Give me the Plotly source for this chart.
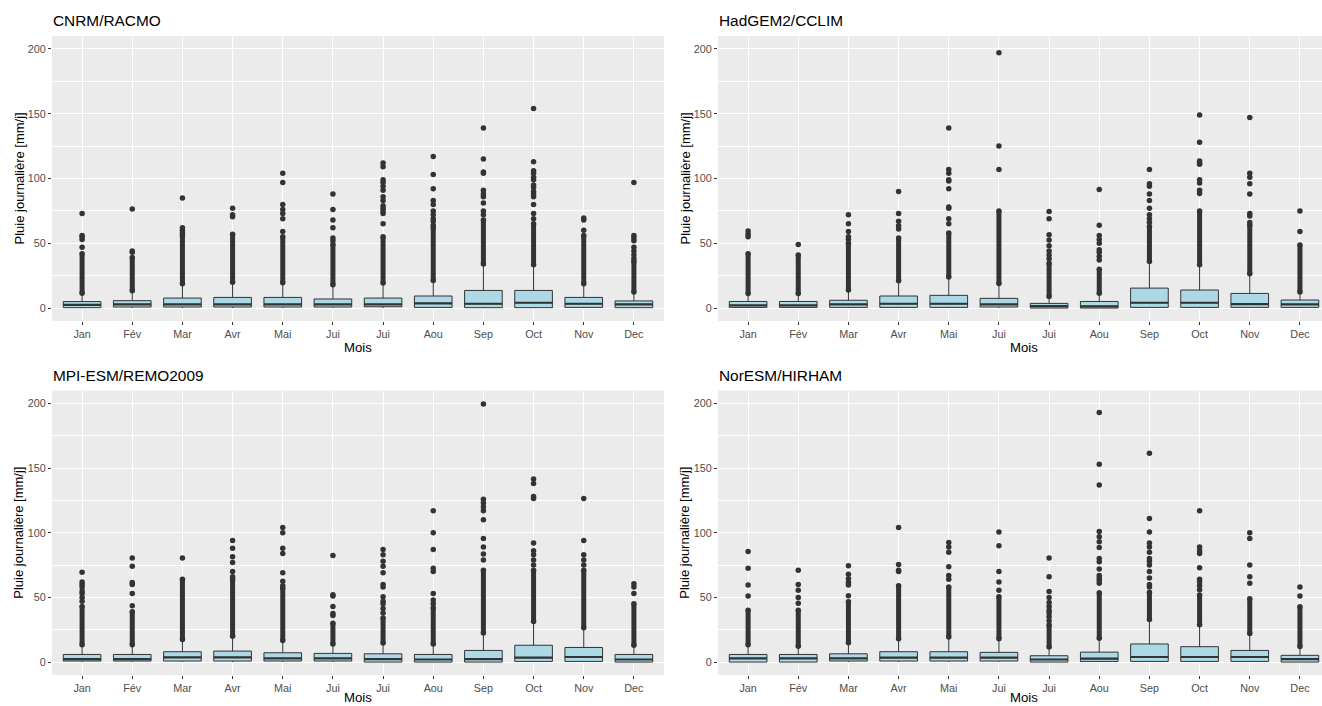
import plotly.graph_objects as go

# ---------------- data ----------------
months = ["Jan", "Fév", "Mar", "Avr", "Mai", "Jui", "Jui", "Aou", "Sep", "Oct", "Nov", "Dec"]
positions = list(range(1, 13))
min_rain = 0.0
y_ticks = [0, 50, 100, 150, 200]
y_minor = [25, 75, 125, 175]

titles = ["CNRM/RACMO", "HadGEM2/CCLIM", "MPI-ESM/REMO2009", "NorESM/HIRHAM"]
x_title = "Mois"
y_title = "Pluie journalière [mm/j]"

# CNRM/RACMO
cnrm_q1 = [0.3, 0.8, 0.8, 0.8, 0.8, 0.8, 1.0, 0.5, 0.3, 0.3, 0.5, 0.3]
cnrm_med = [2.5, 2.8, 2.8, 2.8, 2.8, 2.8, 2.8, 3.6, 3.3, 4.1, 3.3, 2.8]
cnrm_q3 = [5.0, 5.7, 7.7, 8.2, 8.2, 7.0, 7.7, 9.3, 13.6, 13.6, 8.2, 5.5]
cnrm_whisk = [10.5, 12.4, 17.8, 19.0, 18.5, 17.0, 18.3, 20.3, 33.0, 32.4, 17.8, 11.3]
cnrm_dense_lo = [11.5, 13.4, 18.8, 20.0, 19.5, 18.0, 19.3, 21.3, 34.0, 33.4, 18.8, 12.3]
cnrm_dense_hi = [42, 39, 56, 57, 55, 49, 55, 62, 68, 65, 56, 36]
cnrm_out = [
    [47, 53, 55, 56, 73],
    [43, 44, 76.5],
    [58, 60, 62, 85],
    [70.5, 72, 77],
    [59, 69, 73, 76, 80, 97, 104],
    [52, 54, 62, 68, 76, 88],
    [65, 73, 75, 77, 79, 83, 86, 91, 94, 97, 99, 109, 112],
    [64, 67, 69, 72, 75, 80, 83, 92, 103, 117],
    [72, 75, 81, 86, 88, 91, 104, 105, 115, 139],
    [69, 73, 80, 86, 88, 90, 93, 95, 99, 101, 104, 106, 113, 154],
    [60, 68, 69.5],
    [38, 41, 44, 47, 52, 54, 56, 97],
]

# HadGEM2/CCLIM
had_q1 = [0.5, 0.5, 0.5, 0.5, 0.5, 0.8, 0.0, 0.0, 0.5, 0.5, 0.5, 0.5]
had_med = [2.0, 2.0, 2.8, 3.3, 3.3, 2.8, 1.5, 1.3, 4.1, 4.1, 3.1, 2.8]
had_q3 = [5.1, 5.1, 6.0, 9.3, 9.8, 7.5, 3.6, 5.1, 15.4, 13.9, 11.3, 6.2]
had_whisk = [10.3, 10.3, 13.0, 20.0, 23.0, 18.0, 8.0, 10.5, 35.0, 32.4, 25.5, 11.3]
had_dense_lo = [11.3, 11.3, 14.0, 21.0, 24.0, 19.0, 9.0, 11.5, 36.0, 33.4, 26.5, 12.3]
had_dense_hi = [42, 41, 50, 54, 58, 75, 34.5, 30, 63, 75, 64, 48.6]
had_out = [
    [55, 57, 59.5],
    [49],
    [53, 55, 59, 65, 72],
    [61, 63.5, 67, 73, 90],
    [65, 69, 77, 78, 92, 98, 99, 104, 107, 139],
    [107, 125, 197],
    [38, 41, 44, 48, 52.5, 56.5, 69, 74.5],
    [37, 40, 43, 45, 50, 53, 56, 64, 91.5],
    [66, 69, 72, 77, 83, 88, 94, 96, 107],
    [88.5, 91, 96.5, 99, 111, 112, 113.5, 128, 149],
    [66, 71, 73, 88, 96, 101, 104, 147],
    [59, 75],
]

# MPI-ESM/REMO2009
mpi_q1 = [0.8, 0.8, 0.8, 0.8, 0.8, 0.8, 0.0, 0.0, 0.0, 0.5, 0.5, 0.0]
mpi_med = [2.3, 2.3, 3.6, 3.6, 2.8, 2.8, 2.3, 2.0, 2.3, 3.4, 3.9, 2.0]
mpi_q3 = [5.9, 5.9, 8.0, 8.5, 7.2, 6.7, 6.4, 5.9, 9.0, 13.0, 11.3, 5.9]
mpi_whisk = [12.4, 12.4, 16.5, 19.0, 15.7, 13.0, 13.7, 13.0, 21.4, 30.4, 25.5, 12.0]
mpi_dense_lo = [13.4, 13.4, 17.5, 20.0, 16.7, 14.0, 14.7, 14.0, 22.4, 31.4, 26.5, 13.0]
mpi_dense_hi = [43, 39, 64, 64, 57, 30, 34, 42, 71, 71, 71, 45]
mpi_out = [
    [47, 50, 53, 55, 58, 60, 62, 69.5],
    [43.5, 53, 60, 61.5, 74, 80.5],
    [80.5],
    [66, 70, 77, 81.5, 88, 94],
    [59, 62.5, 69, 84, 88, 100, 104],
    [36, 37.5, 43, 51, 52, 82.5],
    [38, 41.5, 45, 47, 50.5, 58, 60, 69, 74, 78, 83, 87],
    [45, 48, 53, 70, 72.5, 87, 100, 117],
    [79, 83.5, 89, 95.5, 110, 117, 120, 123, 126, 199.5],
    [75, 79, 83, 86, 92, 126.5, 128, 138, 141.5],
    [75, 79, 83, 94, 126.5],
    [53, 58, 60.5],
]

# NorESM/HIRHAM
nor_q1 = [0.0, 0.0, 0.8, 0.8, 0.8, 0.8, 0.0, 0.5, 0.5, 0.5, 0.5, 0.0]
nor_med = [2.8, 2.8, 2.8, 3.4, 3.4, 3.4, 2.0, 2.6, 3.9, 3.9, 3.9, 2.3]
nor_q3 = [5.9, 5.9, 6.4, 8.0, 8.0, 7.5, 4.9, 7.7, 14.0, 11.9, 9.0, 5.2]
nor_whisk = [12.4, 11.3, 14.0, 17.0, 18.3, 17.0, 10.6, 17.5, 32.0, 27.8, 21.0, 11.0]
nor_dense_lo = [13.4, 12.3, 15.0, 18.0, 19.3, 18.0, 11.6, 18.5, 33.0, 28.8, 22.0, 12.0]
nor_dense_hi = [40, 40, 46.6, 59, 58, 50.5, 28.6, 53.6, 54, 51.8, 49, 42.8]
nor_out = [
    [51, 59.5, 72.5, 85.5],
    [45.5, 50, 55.5, 60, 71],
    [51.3, 59.5, 61.5, 64.5, 68, 74.5],
    [70, 71, 75.5, 104],
    [64, 67, 73.7, 85, 89, 92.5],
    [55.5, 62, 70, 90, 100.5],
    [32, 35, 38, 40, 43, 46, 50, 54.5, 66, 80.5],
    [61, 63, 65, 67, 72, 77.5, 80, 88.5, 93, 97, 101, 137, 153, 193],
    [58, 60, 65, 70, 75, 78, 80, 85, 89, 92, 100.5, 111, 161.5],
    [56, 59, 62, 64, 73, 84, 86, 89, 117],
    [61, 66, 75, 95.5, 100],
    [51, 58],
]

panels_data = [
    (cnrm_q1, cnrm_med, cnrm_q3, cnrm_whisk, cnrm_dense_lo, cnrm_dense_hi, cnrm_out),
    (had_q1, had_med, had_q3, had_whisk, had_dense_lo, had_dense_hi, had_out),
    (mpi_q1, mpi_med, mpi_q3, mpi_whisk, mpi_dense_lo, mpi_dense_hi, mpi_out),
    (nor_q1, nor_med, nor_q3, nor_whisk, nor_dense_lo, nor_dense_hi, nor_out),
]

# ---------------- layout geometry (pixels) ----------------
W, H = 1322, 706
FONT = "Liberation Sans, Arial, sans-serif"
DARK = "#333333"
BOX_W = 0.75

# (left px, right px, x range end), (top px, bottom px)
col_geom = [(52, 664, 12.6), (718, 1322, 12.44)]
row_geom = [(36, 321), (390.5, 675)]


def fx(p):
    return p / W


def fy(p):
    return 1 - p / H


fig = go.Figure()
annotations = []
layout_axes = {}

for k, (q1, med, q3, wh, dlo, dhi, outs) in enumerate(panels_data):
    r, c = divmod(k, 2)
    xl, xr, xend = col_geom[c]
    yt, yb = row_geom[r]
    idx = "" if k == 0 else str(k + 1)
    xa, ya = "x" + idx, "y" + idx

    fig.add_trace(go.Box(
        x=positions, q1=q1, median=med, q3=q3,
        lowerfence=[min_rain] * len(positions), upperfence=wh,
        orientation="v", width=BOX_W, whiskerwidth=0,
        fillcolor="#ADD8E6", line=dict(color=DARK, width=1),
        boxpoints=False, showlegend=False, hoverinfo="skip",
        xaxis=xa, yaxis=ya,
    ))
    # thick median bars (ggplot fatten)
    mx, my = [], []
    for p, m in zip(positions, med):
        mx += [p - BOX_W / 2, p + BOX_W / 2, None]
        my += [m, m, None]
    fig.add_trace(go.Scatter(x=mx, y=my, mode="lines",
                             line=dict(color=DARK, width=2.2),
                             showlegend=False, hoverinfo="skip",
                             xaxis=xa, yaxis=ya))
    # dense outlier runs
    dx, dy = [], []
    for p, lo, hi in zip(positions, dlo, dhi):
        dx += [p, p, None]
        dy += [lo, hi, None]
    fig.add_trace(go.Scatter(x=dx, y=dy, mode="lines+markers",
                             line=dict(color=DARK, width=5),
                             marker=dict(color=DARK, size=5.5),
                             showlegend=False, hoverinfo="skip",
                             xaxis=xa, yaxis=ya))
    # isolated outliers
    ox, oy = [], []
    for p, vals in zip(positions, outs):
        ox += [p] * len(vals)
        oy += vals
    fig.add_trace(go.Scatter(x=ox, y=oy, mode="markers",
                             marker=dict(color=DARK, size=5.5),
                             showlegend=False, hoverinfo="skip",
                             xaxis=xa, yaxis=ya))

    layout_axes["xaxis" + idx] = dict(
        domain=[fx(xl), fx(xr)], range=[0.4, xend], anchor=ya,
        tickvals=positions, ticktext=months,
        ticks="outside", ticklen=3, tickwidth=1, tickcolor=DARK,
        tickfont=dict(family=FONT, size=10.8, color="#4D4D4D"),
        showgrid=True, gridcolor="white", gridwidth=1.1,
        zeroline=False, showline=False, fixedrange=True,
    )
    layout_axes["yaxis" + idx] = dict(
        domain=[fy(yb), fy(yt)], range=[-10, 210], anchor=xa,
        tickvals=y_ticks,
        ticks="outside", ticklen=3, tickwidth=1, tickcolor=DARK,
        tickfont=dict(family=FONT, size=10.8, color="#4D4D4D"),
        showgrid=True, gridcolor="white", gridwidth=1.1,
        minor=dict(tickvals=y_minor, showgrid=True, gridcolor="white",
                   gridwidth=0.55, ticks=""),
        zeroline=False, showline=False, fixedrange=True,
    )

    # panel title
    annotations.append(dict(
        text=titles[k], x=fx(xl - 1.5), y=fy(yt - 15.5), xref="paper", yref="paper",
        xanchor="left", yanchor="middle", showarrow=False,
        font=dict(family=FONT, size=15.4, color="black"),
    ))
    # x title (kept inside the page)
    true_right = xl + (12.6 - 0.4) * (xr - xl) / (xend - 0.4)
    annotations.append(dict(
        text=x_title, x=fx((xl + true_right) / 2), y=fy(min(yb + 26.5, H - 9)),
        xref="paper", yref="paper", xanchor="center", yanchor="middle",
        showarrow=False, font=dict(family=FONT, size=13.2, color="black"),
    ))
    # y title
    annotations.append(dict(
        text=y_title, x=fx(xl - 33), y=fy((yt + yb) / 2),
        xref="paper", yref="paper", xanchor="center", yanchor="middle",
        textangle=-90, showarrow=False,
        font=dict(family=FONT, size=13, color="black"),
    ))

fig.update_layout(
    width=W, height=H,
    margin=dict(l=0, r=0, t=0, b=0),
    paper_bgcolor="white", plot_bgcolor="#EBEBEB",
    font=dict(family=FONT),
    annotations=annotations,
    showlegend=False,
    **layout_axes,
)

fig.write_html(
    "out.html",
    config={"displayModeBar": False},
    post_script="document.body.style.margin='0px';document.body.style.overflow='hidden';",
)
